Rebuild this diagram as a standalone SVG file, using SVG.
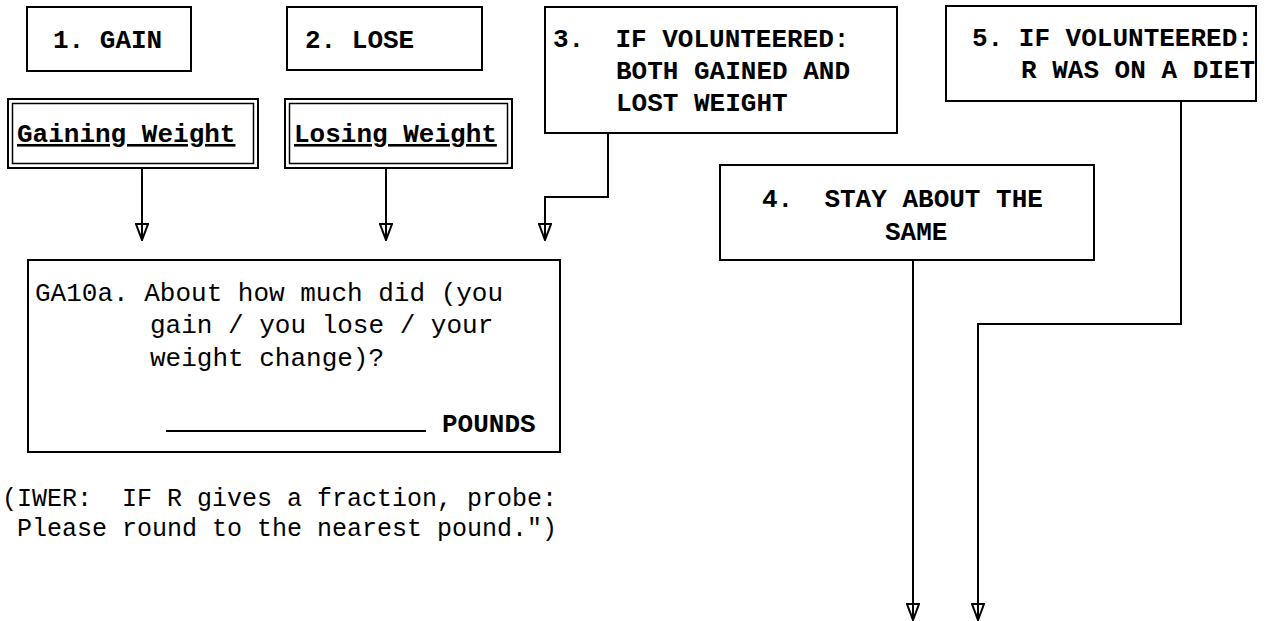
<svg xmlns="http://www.w3.org/2000/svg" width="1275" height="621" viewBox="0 0 1275 621">
<style>
.box{fill:#fff;stroke:#000;stroke-width:2}
.thin{fill:none;stroke:#000;stroke-width:1.5}
.h{font-family:"Liberation Mono","Courier New",monospace;font-size:26px;font-weight:bold;fill:#000}
.q{font-family:"Liberation Mono","Courier New",monospace;font-size:26px;font-weight:normal;fill:#000}
.n{font-family:"Liberation Mono","Courier New",monospace;font-size:25px;fill:#000}
.c{fill:none;stroke:#000;stroke-width:2}
</style>
<defs>
<marker id="ah" markerWidth="18" markerHeight="14" refX="17" refY="7" orient="auto" markerUnits="userSpaceOnUse" viewBox="0 0 18 14">
<path d="M1,1 L1,13 L17,7 Z" fill="#fff" stroke="#000" stroke-width="2"/>
<path d="M0,7 L17,7" stroke="#000" stroke-width="2"/>
</marker>
</defs>
<rect width="1275" height="621" fill="#fff"/>
<g id="opt1"><rect class="box" x="27" y="7" width="164" height="64"/><text class="h" x="53" y="48" xml:space="preserve">1. GAIN</text></g>
<g id="opt2"><rect class="box" x="287" y="7" width="195" height="63"/><text class="h" x="305" y="48" xml:space="preserve">2. LOSE</text></g>
<g id="opt3"><rect class="box" x="545" y="7" width="352" height="126"/>
<text class="h" x="553" y="47" xml:space="preserve">3.  IF VOLUNTEERED:</text>
<text class="h" x="616" y="79" xml:space="preserve">BOTH GAINED AND</text>
<text class="h" x="616" y="111" xml:space="preserve">LOST WEIGHT</text></g>
<g id="opt5"><rect class="box" x="946" y="6" width="310" height="95"/>
<text class="h" x="972" y="46" xml:space="preserve">5. IF VOLUNTEERED:</text>
<text class="h" x="1021" y="78" xml:space="preserve">R WAS ON A DIET</text></g>
<g id="opt4"><rect class="box" x="720" y="165" width="374" height="95"/>
<text class="h" x="762" y="207" xml:space="preserve">4.  STAY ABOUT THE</text>
<text class="h" x="885" y="240" xml:space="preserve">SAME</text></g>
<g id="gaining"><rect class="box" x="8" y="99" width="250" height="69"/><rect class="thin" x="12.5" y="103.5" width="241" height="60"/>
<text class="h" x="17" y="142" text-decoration="underline">Gaining Weight</text></g>
<g id="losing"><rect class="box" x="285" y="99" width="227" height="69"/><rect class="thin" x="289.5" y="103.5" width="218" height="60"/>
<text class="h" x="294" y="142" text-decoration="underline">Losing Weight</text></g>
<g id="ga10a"><rect class="box" x="28" y="260" width="532" height="192"/>
<text class="q" x="35" y="301" xml:space="preserve">GA10a. About how much did (you</text>
<text class="q" x="150" y="333" xml:space="preserve">gain / you lose / your</text>
<text class="q" x="150" y="366" xml:space="preserve">weight change)?</text>
<line x1="166" y1="431" x2="426" y2="431" stroke="#000" stroke-width="2"/>
<text class="h" x="442" y="432">POUNDS</text></g>
<g id="note">
<text class="n" x="2" y="506" xml:space="preserve">(IWER:  IF R gives a fraction, probe:</text>
<text class="n" x="2" y="536" xml:space="preserve"> Please round to the nearest pound.")</text></g>
<g id="connectors">
<path class="c" d="M142,168 V240" marker-end="url(#ah)"/>
<path class="c" d="M386,168 V240" marker-end="url(#ah)"/>
<path class="c" d="M608,133 V197 H545 V240" marker-end="url(#ah)"/>
<path class="c" d="M913,260 V620" marker-end="url(#ah)"/>
<path class="c" d="M1181,101 V324 H978 V620" marker-end="url(#ah)"/>
</g>
</svg>
